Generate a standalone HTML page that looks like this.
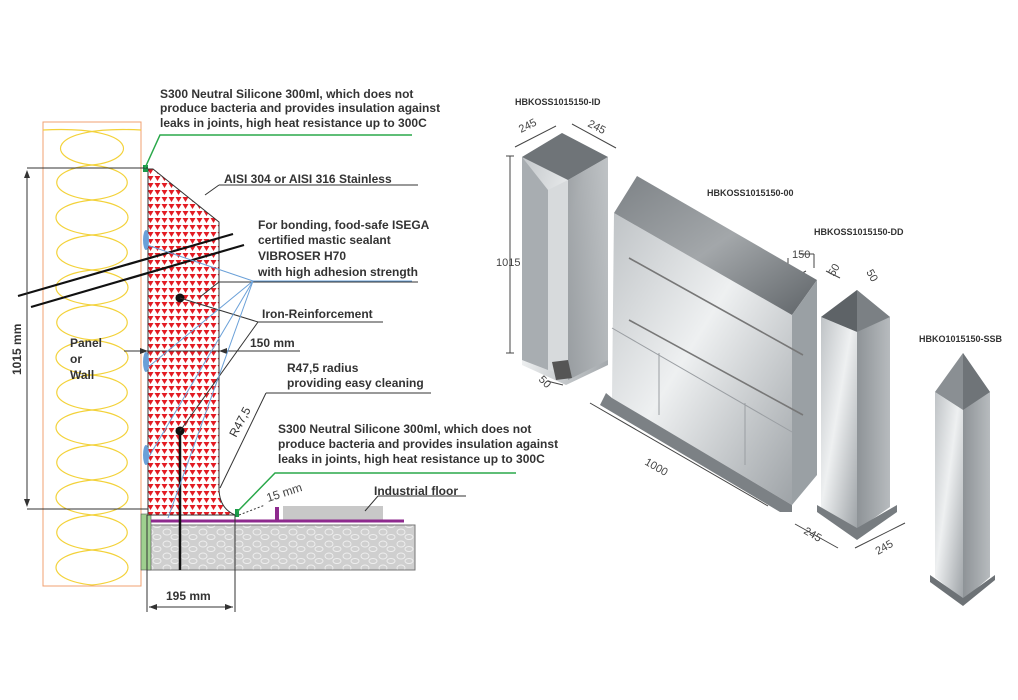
<!DOCTYPE html>
<html><head><meta charset="utf-8"><style>
html,body{margin:0;padding:0;background:#fff;}
svg{display:block;}
text{font-family:"Liberation Sans",sans-serif;}
.b{font-weight:bold;font-size:12px;fill:#333;}
.d{font-size:11px;fill:#444;}
.lab{font-weight:bold;font-size:9px;fill:#333;}
</style></head><body>
<svg width="1018" height="700" viewBox="0 0 1018 700" xmlns="http://www.w3.org/2000/svg">
<defs>
<pattern id="tri" width="7" height="7" patternUnits="userSpaceOnUse">
<rect width="7" height="7" fill="#fff"/>
<polygon points="0.5,1 6.5,1 3.5,6" fill="#e31b23"/>
</pattern>
<pattern id="stone" width="18" height="12" patternUnits="userSpaceOnUse">
<rect width="18" height="12" fill="#cfcfcf"/>
<ellipse cx="5" cy="4" rx="4" ry="3" fill="none" stroke="#eee" stroke-width="1"/>
<ellipse cx="13" cy="9" rx="4" ry="2.5" fill="none" stroke="#eee" stroke-width="1"/>
</pattern>
<linearGradient id="m1" x1="0" y1="0" x2="1" y2="1">
<stop offset="0" stop-color="#bfc3c6"/><stop offset="0.45" stop-color="#eef0f1"/><stop offset="1" stop-color="#9ea3a7"/>
</linearGradient>
<linearGradient id="m2" x1="0" y1="0" x2="1" y2="0">
<stop offset="0" stop-color="#8e9397"/><stop offset="1" stop-color="#b7bbbe"/>
</linearGradient>
<linearGradient id="top" x1="0" y1="0" x2="1" y2="1">
<stop offset="0" stop-color="#7d8286"/><stop offset="0.5" stop-color="#a3a7aa"/><stop offset="1" stop-color="#5f6468"/>
</linearGradient>
</defs>

<!-- insulation -->
<rect x="43" y="122" width="98" height="464" fill="#fff" stroke="#f0a070" stroke-width="1"/>
<g fill="none" stroke="#f3d23a" stroke-width="1.2">
<path d="M43,130 C140,125 140,160 92,165 C45,170 45,195 92,200 C140,205 140,230 92,235 C45,240 45,265 92,270 C140,275 140,300 92,305 C45,310 45,335 92,340 C140,345 140,370 92,375 C45,380 45,405 92,410 C140,415 140,440 92,445 C45,450 45,475 92,480 C140,485 140,510 92,515 C45,520 45,545 92,550 C140,555 140,580 92,585"/>
<path d="M141,130 C44,125 44,160 92,165 C139,170 139,195 92,200 C44,205 44,230 92,235 C139,240 139,265 92,270 C44,275 44,300 92,305 C139,310 139,335 92,340 C44,345 44,370 92,375 C139,380 139,405 92,410 C44,415 44,440 92,445 C139,450 139,475 92,480 C44,485 44,510 92,515 C139,520 139,545 92,550 C44,555 44,580 92,585"/>
</g>

<!-- concrete slab -->
<rect x="148" y="525" width="267" height="45" fill="url(#stone)" stroke="#777" stroke-width="1"/>
<rect x="141" y="514" width="10" height="56" fill="#9fd08f" stroke="#555" stroke-width="0.6"/>
<rect x="283" y="506" width="100" height="14" fill="#c8c8c8"/>
<rect x="275" y="507" width="4" height="14" fill="#8e2a8e"/>
<line x1="151" y1="521" x2="404" y2="521" stroke="#8e2a8e" stroke-width="3"/>

<!-- red body -->
<path d="M148,169 L153,169 L219,222 L219,488 C219,505 228,512 235,515 L148,515 Z" fill="url(#tri)" stroke="#333" stroke-width="1"/>
<rect x="143" y="165" width="5" height="7" fill="#1a9a4a"/>
<rect x="235" y="509" width="4" height="8" fill="#1a9a4a"/>
<g fill="#6aa0d8"><ellipse cx="146" cy="240" rx="3" ry="10"/><ellipse cx="146" cy="362" rx="3" ry="10"/><ellipse cx="146" cy="455" rx="3" ry="10"/></g>

<!-- reinforcement -->
<line x1="180" y1="430" x2="180" y2="570" stroke="#111" stroke-width="2.5"/>
<circle cx="180" cy="298" r="4.5" fill="#111"/>
<circle cx="180" cy="431" r="4.5" fill="#111"/>

<!-- slanted pipe -->
<g stroke="#111" stroke-width="2.2" fill="none">
<line x1="18" y1="296" x2="233" y2="234"/><line x1="31" y1="307" x2="244" y2="245"/>
</g>

<!-- dims -->
<g stroke="#333" stroke-width="1" fill="none">
<line x1="27" y1="168" x2="148" y2="168"/><line x1="27" y1="509" x2="148" y2="509"/>
<line x1="27" y1="172" x2="27" y2="505"/>
<line x1="124" y1="351" x2="300" y2="351"/>
<line x1="147" y1="515" x2="147" y2="612"/><line x1="235" y1="515" x2="235" y2="612"/>
<line x1="149" y1="607" x2="233" y2="607"/>
<line x1="180" y1="298" x2="258" y2="322"/><line x1="258" y1="322" x2="383" y2="322"/>
<line x1="258" y1="322" x2="180" y2="431"/>
<line x1="200" y1="297" x2="219" y2="282"/><line x1="219" y1="282" x2="418" y2="282"/>
<line x1="220" y1="488" x2="266" y2="393"/><line x1="266" y1="393" x2="431" y2="393"/>
<line x1="365" y1="511" x2="378" y2="496"/><line x1="378" y1="496" x2="466" y2="496"/>
<line x1="205" y1="195" x2="219" y2="185"/><line x1="219" y1="185" x2="418" y2="185"/>
<line x1="239" y1="515" x2="265" y2="505" stroke-dasharray="2,2"/>
</g>
<g fill="#333">
<polygon points="27,170 24,178 30,178"/><polygon points="27,507 24,499 30,499"/>
<polygon points="148,351 140,348 140,354"/><polygon points="219,351 227,348 227,354"/>
<polygon points="149,607 157,604 157,610"/><polygon points="233,607 225,604 225,610"/>
</g>
<!-- blue leaders -->
<g stroke="#6aa0d8" stroke-width="1" fill="none">
<line x1="412" y1="281" x2="253" y2="281"/>
<line x1="253" y1="281" x2="147" y2="245"/><line x1="253" y1="281" x2="147" y2="368"/>
<line x1="253" y1="281" x2="147" y2="460"/><line x1="253" y1="281" x2="168" y2="518"/>
</g>
<!-- green leaders -->
<g stroke="#2aa84a" stroke-width="1.5" fill="none">
<polyline points="412,135 160,135 145,168"/>
<polyline points="516,473 275,473 237,512"/>
</g>

<!-- texts left -->
<text class="b" x="160" y="98">S300 Neutral Silicone 300ml, which does not</text>
<text class="b" x="160" y="112">produce bacteria and provides insulation against</text>
<text class="b" x="160" y="127">leaks in joints, high heat resistance up to 300C</text>
<text class="b" x="224" y="183">AISI 304 or AISI 316 Stainless</text>
<text class="b" x="258" y="229">For bonding, food-safe ISEGA</text>
<text class="b" x="258" y="244">certified mastic sealant</text>
<text class="b" x="258" y="260">VIBROSER H70</text>
<text class="b" x="258" y="276">with high adhesion strength</text>
<text class="b" x="262" y="318">Iron-Reinforcement</text>
<text class="b" x="250" y="347">150 mm</text>
<text class="b" x="287" y="372">R47,5 radius</text>
<text class="b" x="287" y="387">providing easy cleaning</text>
<text class="b" x="278" y="433">S300 Neutral Silicone 300ml, which does not</text>
<text class="b" x="278" y="448">produce bacteria and provides insulation against</text>
<text class="b" x="278" y="463">leaks in joints, high heat resistance up to 300C</text>
<text class="b" x="374" y="495">Industrial floor</text>
<text class="b" x="70" y="347">Panel</text>
<text class="b" x="70" y="363">or</text>
<text class="b" x="70" y="379">Wall</text>
<text class="b" x="166" y="600">195 mm</text>
<text class="b" transform="translate(21,375) rotate(-90)">1015 mm</text>
<text class="b" transform="translate(236,438) rotate(-62)" style="font-weight:normal">R47,5</text>
<text class="d" transform="translate(268,502) rotate(-18)" style="font-size:12px">15 mm</text>

<!-- ID pillar -->
<polygon points="522,157 562,133 608,157 608,365 566,385 522,365" fill="url(#m1)"/>
<polygon points="522,157 562,133 608,157 568,180" fill="#6f7478"/>
<polygon points="522,157 548,190 548,370 522,360" fill="#a8adb1"/>
<polygon points="548,190 568,180 568,375 548,370" fill="#d7dadc"/>
<polygon points="568,180 608,157 608,360 568,380" fill="url(#m2)" opacity="0.8"/>
<polygon points="552,362 568,360 572,378 556,380" fill="#555"/>
<g stroke="#444" stroke-width="1" fill="none">
<line x1="510" y1="156" x2="510" y2="353"/><line x1="506" y1="156" x2="514" y2="156"/><line x1="506" y1="353" x2="514" y2="353"/>
<line x1="515" y1="147" x2="556" y2="126"/><line x1="572" y1="124" x2="616" y2="148"/>
<line x1="547" y1="381" x2="563" y2="385"/>
<line x1="590" y1="403" x2="768" y2="506"/>
<line x1="800" y1="254" x2="814" y2="254"/><line x1="814" y1="254" x2="814" y2="268"/><line x1="788" y1="258" x2="788" y2="274"/>
<line x1="793" y1="278" x2="806" y2="271"/><line x1="826" y1="271" x2="840" y2="278"/>
<line x1="795" y1="524" x2="838" y2="548"/><line x1="855" y1="548" x2="905" y2="523"/>
</g>
<text class="d" x="496" y="266">1015</text>
<text class="d" transform="translate(521,133) rotate(-27)">245</text>
<text class="d" transform="translate(587,126) rotate(27)">245</text>
<text class="d" transform="translate(538,380) rotate(45)">50</text>
<text class="d" transform="translate(644,464) rotate(30)">1000</text>
<text class="d" x="792" y="258">150</text>
<text class="d" transform="translate(834,277) rotate(-60)">50</text>
<text class="d" transform="translate(866,272) rotate(60)">50</text>
<text class="d" transform="translate(803,533) rotate(30)">245</text>
<text class="d" transform="translate(878,555) rotate(-30)">245</text>
<text class="lab" x="515" y="105">HBKOSS1015150-ID</text>
<text class="lab" x="707" y="196">HBKOSS1015150-00</text>
<text class="lab" x="814" y="235">HBKOSS1015150-DD</text>
<text class="lab" x="919" y="342">HBKO1015150-SSB</text>

<!-- big panel -->
<polygon points="614,213 792,315 792,505 612,398" fill="url(#m1)"/>
<polygon points="614,213 637,176 817,280 792,315" fill="url(#top)"/>
<polygon points="792,315 817,280 817,475 792,505" fill="#9aa0a4"/>
<polygon points="606,393 612,398 792,505 792,512 780,512 600,405" fill="#7c8185"/>
<g stroke="#777" stroke-width="1.6"><line x1="629" y1="258" x2="803" y2="355"/><line x1="629" y1="320" x2="803" y2="415"/></g>
<g stroke="#9a9ea2" stroke-width="1"><line x1="659" y1="353" x2="659" y2="415"/><line x1="745" y1="403" x2="745" y2="465"/><line x1="612" y1="328" x2="792" y2="432"/></g>

<!-- DD pillar -->
<polygon points="821,317 857,290 857,530 821,507" fill="#c4c8cb"/>
<polygon points="857,290 890,317 890,507 857,530" fill="url(#m2)"/>
<polygon points="821,317 857,290 857,332" fill="#5e6367"/>
<polygon points="857,290 890,317 857,332" fill="#7b8084"/>
<polygon points="821,317 857,332 857,530 821,507" fill="url(#m1)"/>
<polygon points="817,505 857,528 897,505 897,512 857,540 817,512" fill="#777c80"/>

<!-- SSB pillar -->
<polygon points="935,392 963,353 963,600 935,577" fill="url(#m1)"/>
<polygon points="963,353 990,392 990,577 963,600" fill="url(#m2)"/>
<polygon points="935,392 963,353 963,410" fill="#8a8f93"/>
<polygon points="963,353 990,392 963,410" fill="#6f7478"/>
<polygon points="935,392 963,410 963,600 935,577" fill="url(#m1)"/>
<polygon points="930,575 963,598 995,575 995,580 963,606 930,582" fill="#6d7276"/>
</svg>
</body></html>
